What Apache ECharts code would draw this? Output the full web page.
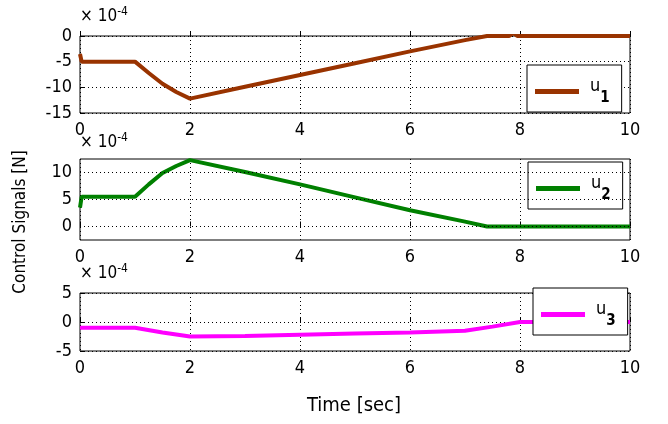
<!DOCTYPE html>
<html><head><meta charset="utf-8">
<script src="https://cdn.jsdelivr.net/npm/echarts@6/dist/echarts.min.js"></script>
<style>html,body{margin:0;padding:0;background:#fff}#c{width:668px;height:424px}</style>
</head><body><div id="c"></div>
<script>
// Data (values in units of 1e-4 N)
const xTicks = [0, 2, 4, 6, 8, 10];
const u1 = [[0,-3.5],[0.03,-5],[1,-5],[1.25,-7.2],[1.5,-9.3],[1.75,-10.9],[2,-12.2],[3,-9.9],[4,-7.6],[5,-5.3],[6,-3.0],[7,-0.8],[7.4,0],[7.8,0],[7.88,0.6],[7.95,0],[10,0]];
const u2 = [[0,3.5],[0.03,5.5],[1,5.5],[1.25,7.8],[1.5,9.9],[1.75,11.2],[2,12.3],[3,10.1],[4,7.8],[5,5.4],[6,3.0],[7,0.9],[7.4,0],[10,0]];
const u3 = [[0,-1],[1,-1],[1.5,-1.8],[2,-2.5],[3,-2.4],[4,-2.2],[5,-2.0],[6,-1.8],[7,-1.5],[7.5,-0.8],[8,0],[10,0]];
const seriesNames = ['u1','u2','u3'];
const colors = ['#993300','#008000','#ff00ff'];

const FONT = '"DejaVu Sans Condensed","Liberation Sans",Arial,sans-serif';
const grids = [
  {left:80, right:38, top:36, height:77},
  {left:80, right:38, top:159, height:81},
  {left:80, right:38, top:293, height:58}
];
const yRanges = [
  {min:-15, max:0, interval:5},
  {min:-2.5, max:12.5, interval:2.5},
  {min:-5, max:5, interval:5}
];
const dotted = {color:'#000', width:1, type:[1,3]};
const chart = echarts.init(document.getElementById('c'));
const xAxes = grids.map((g,i)=>({
  type:'value', gridIndex:i, min:0, max:10, interval:2,
  axisLine:{show:false}, axisTick:{show:true, inside:true, length:5, lineStyle:{color:'#000'}},
  axisLabel:{color:'#000', fontFamily:FONT, fontSize:18, margin:8},
  splitLine:{show:true, lineStyle:dotted}
}));
const yAxes = grids.map((g,i)=>({
  type:'value', gridIndex:i, min:yRanges[i].min, max:yRanges[i].max, interval:yRanges[i].interval,
  axisLine:{show:false}, axisTick:{show:i!==1, inside:true, length:5, lineStyle:{color:'#000'}},
  axisLabel:{color:'#000', fontFamily:FONT, fontSize:18, margin:8,
    formatter: v => (i===1 && Math.abs(v % 5) > 1e-9) ? '' : String(v)},
  splitLine:{show:i!==1, lineStyle:dotted}
}));
const data = [u1,u2,u3];
const series = data.map((d,i)=>({
  name:seriesNames[i], type:'line', xAxisIndex:i, yAxisIndex:i, data:d,
  showSymbol:false, lineStyle:{color:colors[i], width:4}, itemStyle:{color:colors[i]},
  z: 3,
  markLine: i===1 ? {silent:true, symbol:'none', label:{show:false}, lineStyle:dotted,
    data:[{yAxis:0},{yAxis:5},{yAxis:10}], animation:false} : undefined
}));
const legendPos = [
  {left:527, top:65},
  {left:528, top:162},
  {left:533, top:288}
];
const legends = seriesNames.map((n,i)=>({
  data:[n], left:legendPos[i].left, top:legendPos[i].top,
  backgroundColor:'#fff', borderColor:'#000', borderWidth:1, borderRadius:0,
  padding:[12,12,6,8], icon:'rect', itemWidth:44, itemHeight:5, itemGap:0,
  formatter: name => '{a|u}{b|' + name.slice(1) + '}',
  textStyle:{color:'#000', fontFamily:FONT, rich:{
    a:{fontSize:18, fontFamily:FONT, color:'#000', verticalAlign:'top', padding:[0,0,6,6]},
    b:{fontSize:15, fontFamily:FONT, color:'#000', fontWeight:'bold', padding:[14,0,0,0]}
  }}
}));
const expLabel = (y) => ({
  type:'text', left:80, top:y,
  style:{text:'{a|× 10}{b|-4}', rich:{
    a:{fontSize:17, fontFamily:FONT, fill:'#000'},
    b:{fontSize:12, fontFamily:FONT, fill:'#000', padding:[0,0,10,0]}
  }}
});
chart.setOption({
  animation:false,
  grid: grids.map(g=>Object.assign({show:true, borderColor:'#000', borderWidth:1, backgroundColor:'#fff'}, g)),
  xAxis:xAxes, yAxis:yAxes, series, legend:legends,
  graphic:[
    expLabel(6), expLabel(132), expLabel(263),
    {type:'text', x:21, y:222, rotation:Math.PI/2,
      style:{text:'Control Signals [N]', fontSize:17, fontFamily:FONT, fill:'#000', align:'center', verticalAlign:'middle'}},
    {type:'text', x:354, y:406,
      style:{text:'Time [sec]', fontSize:20, fontFamily:FONT, fill:'#000', align:'center', verticalAlign:'middle'}}
  ]
});
</script></body></html>
